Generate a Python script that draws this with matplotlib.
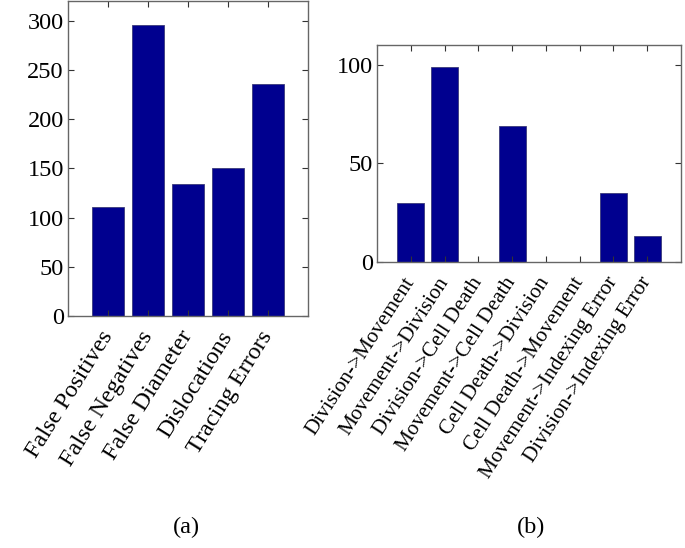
import numpy as np
import matplotlib
matplotlib.use("Agg")
import matplotlib.pyplot as plt

plt.rcParams['font.family'] = ['Liberation Serif', 'DejaVu Serif']

err_labels = ["False Positives", "False Negatives", "False Diameter", "Dislocations", "Tracing Errors"]
err_counts = [111, 296, 134, 150, 236]

trans_labels = ["Division->Movement", "Movement->Division", "Division->Cell Death",
                "Movement->Cell Death", "Cell Death->Division", "Cell Death->Movement",
                "Movement->Indexing Error", "Division->Indexing Error"]
trans_counts = [30, 99, 0, 69, 0, 0, 35, 13]

BAR = "#00008F"
EDGE = "#3a3a7a"
FS = 17.5

fig = plt.figure(figsize=(6.85, 5.48), dpi=100)
a1 = fig.add_axes([0.0993, 0.4234, 0.3504, 0.5748])
a2 = fig.add_axes([0.5504, 0.5219, 0.4438, 0.3960])


def style(ax, labels, xmax, ymax, yticks, lfs, rot):
    ax.set_xlim(0, xmax)
    ax.set_ylim(0, ymax)
    ax.set_yticks(yticks)
    ax.set_xticks(range(1, len(labels) + 1))
    ax.tick_params(direction="in", top=True, right=True, length=4, width=0.8,
                   color="#333")
    ax.tick_params(axis="y", labelsize=FS, pad=3)
    ax.tick_params(axis="x", pad=12)
    ax.set_xticklabels(labels, rotation=rot, ha="right", va="center",
                       rotation_mode="anchor", fontsize=lfs)
    for s in ax.spines.values():
        s.set_color("#666")
        s.set_linewidth(1.0)


x1 = np.arange(1, len(err_counts) + 1)
a1.bar(x1, err_counts, width=0.8, color=BAR, edgecolor=EDGE, linewidth=0.6)
style(a1, err_labels, 6, 320, range(0, 301, 50), 17.5, 58)

x2 = np.arange(1, len(trans_counts) + 1)
a2.bar(x2, trans_counts, width=0.8, color=BAR, edgecolor=EDGE, linewidth=0.6)
style(a2, trans_labels, 9, 110, [0, 50, 100], 15.3, 57)

fig.text(186 / 685, 1 - 527 / 548, "(a)", ha="center", va="center", fontsize=FS)
fig.text(531 / 685, 1 - 527 / 548, "(b)", ha="center", va="center", fontsize=FS)

fig.savefig("out.png", dpi=100)
